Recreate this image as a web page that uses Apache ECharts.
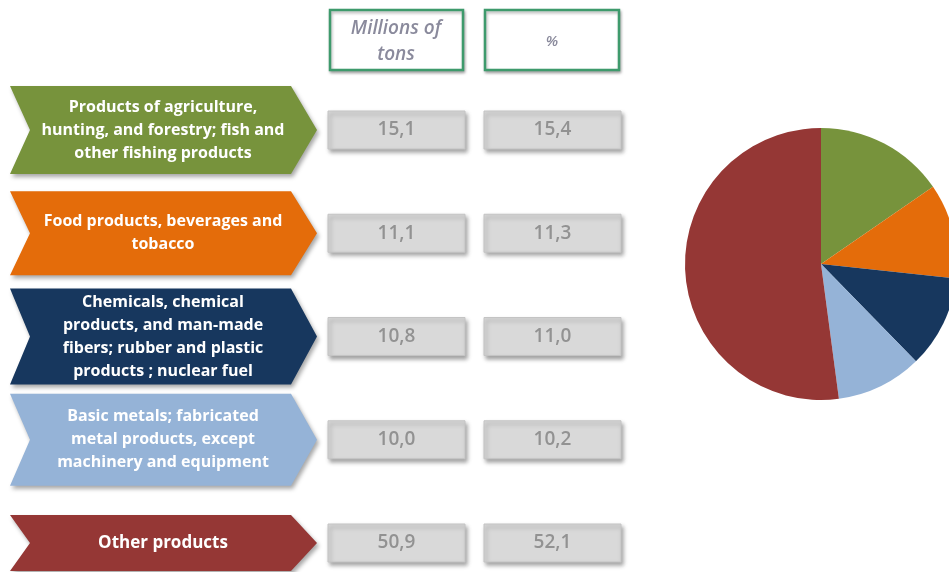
<!DOCTYPE html>
<html>
<head>
<meta charset="utf-8">
<script src="https://cdn.jsdelivr.net/npm/echarts@6/dist/echarts.min.js"></script>
<style>
html,body{margin:0;padding:0;background:#ffffff;}
#chart{width:949px;height:572px;}
</style>
</head>
<body>
<div id="chart"></div>
<script>
// ---- data ----
var categories = [
  'Products of agriculture,\nhunting, and forestry; fish and\nother fishing products',
  'Food products, beverages and\ntobacco',
  'Chemicals, chemical\nproducts, and man-made\nfibers; rubber and plastic\nproducts ; nuclear fuel',
  'Basic metals; fabricated\nmetal products, except\nmachinery and equipment',
  'Other products'
];
var tons = [15.1, 11.1, 10.8, 10.0, 50.9];
var pct = [15.4, 11.3, 11.0, 10.2, 52.1];
var headers = ['Millions of\ntons', '%'];

// ---- styles ----
var colors = ['#77933C', '#E46C0A', '#17375E', '#95B3D7', '#953735'];
var arrowHeights = [88, 84, 96, 92, 56];
var labelSizes = [16, 16, 16, 16, 17];
var FONT = '"Open Sans", Lato, sans-serif';

function fmt(v){ return v.toFixed(1).replace('.', ','); }

var chart = echarts.init(document.getElementById('chart'));

var rows = categories.map(function(c, i){ return [0, i]; });

function renderRow(params, api){
  var i = params.dataIndex;
  var p = api.coord([0, api.value(1)]);
  var cy = p[1];
  var left = api.coord([10, 0])[0];
  var notch = api.coord([30, 0])[0];
  var shoulder = api.coord([291, 0])[0];
  var tip = api.coord([317, 0])[0];
  var h = arrowHeights[i] / 2;
  var b1x = api.coord([328, 0])[0], b1w = api.coord([465, 0])[0] - b1x;
  var b2x = api.coord([484, 0])[0], b2w = api.coord([621, 0])[0] - b2x;
  var bh = 38;
  var shadow = {shadowBlur: 4, shadowOffsetX: 2, shadowOffsetY: 3, shadowColor: 'rgba(0,0,0,0.35)'};
  return {
    type: 'group',
    children: [
      {
        type: 'polygon',
        shape: {points: [[left, cy - h], [shoulder, cy - h], [tip, cy], [shoulder, cy + h], [left, cy + h], [notch, cy]]},
        style: Object.assign({fill: colors[i]}, shadow)
      },
      {
        type: 'text',
        style: {
          x: 163, y: cy,
          text: categories[i],
          fill: '#ffffff',
          font: 'bold ' + labelSizes[i] + 'px ' + FONT,
          lineHeight: 23,
          align: 'center', verticalAlign: 'middle'
        }
      },
      {
        type: 'rect',
        shape: {x: b1x, y: cy - bh / 2, width: b1w, height: bh},
        style: Object.assign({fill: '#D9D9D9', stroke: '#C4C4C4', lineWidth: 1}, shadow)
      },
      {
        type: 'text',
        style: {x: b1x + b1w / 2, y: cy, text: fmt(tons[i]), fill: '#929292', font: '600 19px ' + FONT, align: 'center', verticalAlign: 'middle'}
      },
      {
        type: 'rect',
        shape: {x: b2x, y: cy - bh / 2, width: b2w, height: bh},
        style: Object.assign({fill: '#D9D9D9', stroke: '#C4C4C4', lineWidth: 1}, shadow)
      },
      {
        type: 'text',
        style: {x: b2x + b2w / 2, y: cy, text: fmt(pct[i]), fill: '#929292', font: '600 19px ' + FONT, align: 'center', verticalAlign: 'middle'}
      }
    ]
  };
}

var option = {
  backgroundColor: '#ffffff',
  animation: false,
  grid: {left: 0, width: 949, top: 130, height: 413},
  xAxis: {type: 'value', min: 0, max: 949, show: false},
  yAxis: {type: 'category', data: categories, inverse: true, boundaryGap: false, show: false},
  graphic: [
    {type: 'rect', shape: {x: 330, y: 10, width: 133, height: 60}, style: {fill: '#ffffff', stroke: '#3E9A6C', lineWidth: 2.5, shadowBlur: 3, shadowOffsetX: 1, shadowOffsetY: 2, shadowColor: 'rgba(0,0,0,0.3)'}},
    {type: 'text', style: {x: 396, y: 42, text: headers[0], fill: '#8A8A9C', font: 'italic 600 19px ' + FONT, lineHeight: 26, align: 'center', verticalAlign: 'middle'}},
    {type: 'rect', shape: {x: 485, y: 10, width: 134, height: 60}, style: {fill: '#ffffff', stroke: '#3E9A6C', lineWidth: 2.5, shadowBlur: 3, shadowOffsetX: 1, shadowOffsetY: 2, shadowColor: 'rgba(0,0,0,0.3)'}},
    {type: 'text', style: {x: 552, y: 42, text: headers[1], fill: '#8A8A9C', font: 'italic 600 15px ' + FONT, align: 'center', verticalAlign: 'middle'}}
  ],
  series: [
    {
      type: 'custom',
      coordinateSystem: 'cartesian2d',
      renderItem: renderRow,
      data: rows,
      clip: false,
      silent: true
    },
    {
      type: 'pie',
      center: [821, 264],
      radius: 136,
      startAngle: 90,
      clockwise: true,
      label: {show: false},
      labelLine: {show: false},
      silent: true,
      itemStyle: {borderWidth: 0},
      data: pct.map(function(v, i){ return {value: v, name: categories[i], itemStyle: {color: colors[i]}}; })
    }
  ]
};
chart.setOption(option);
</script>
</body>
</html>
